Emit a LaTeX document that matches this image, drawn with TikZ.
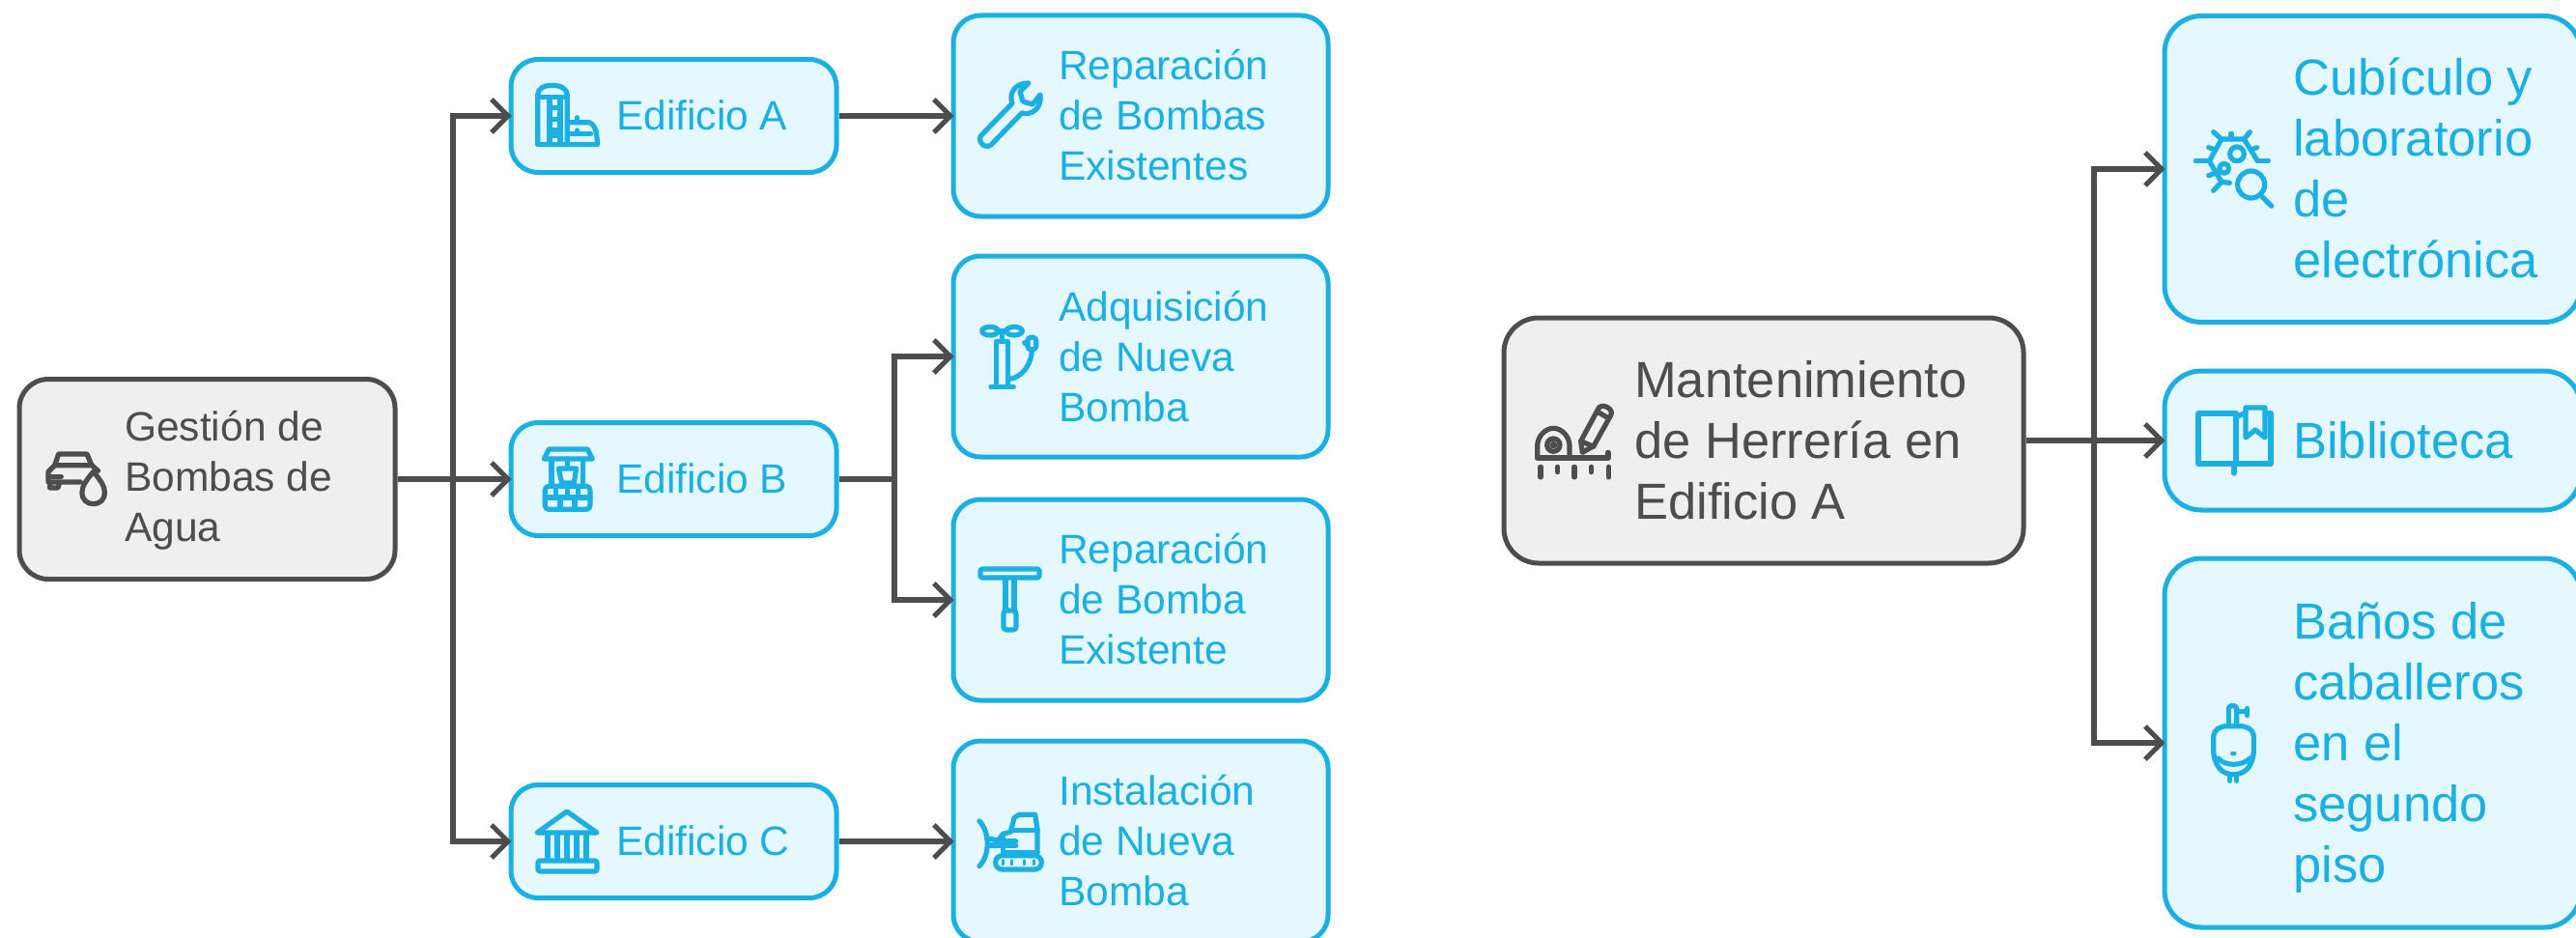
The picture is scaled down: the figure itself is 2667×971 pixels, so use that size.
\documentclass[tikz,border=0pt]{standalone}
\usepackage{fontspec}
\setmainfont{Liberation Sans}
\usetikzlibrary{arrows.meta}
\definecolor{bl}{HTML}{1BB0E3}
\definecolor{blf}{HTML}{E5F7FF}
\definecolor{gr}{HTML}{4D4D4D}
\definecolor{grf}{HTML}{EFEFEF}
\tikzset{
  x=1pt,y=-1pt,
  box/.style={draw,rounded corners=#1,line width=5pt,inner sep=0pt,anchor=center},
  bluebox/.style={box=#1,draw=bl,fill=blf},
  graybox/.style={box=#1,draw=gr,fill=grf},
  lblue/.style={anchor=west,align=left,inner sep=0pt,text=bl,font=\fontsize{42.5}{52}\selectfont},
  lgray/.style={anchor=west,align=left,inner sep=0pt,text=gr,font=\fontsize{42.5}{52}\selectfont},
  Lblue/.style={anchor=west,align=left,inner sep=0pt,text=bl,font=\fontsize{52.5}{63}\selectfont},
  Lgray/.style={anchor=west,align=left,inner sep=0pt,text=gr,font=\fontsize{52.5}{63}\selectfont},
  conn/.style={draw=gr,line width=6.5pt},
  arrow/.style={conn,shorten >=-3pt,-{Straight Barb[length=17pt,width=34pt,line width=5pt]}},
  ic/.style={line width=5.2pt,line cap=round,line join=round},
  icb/.style={ic,draw=bl},
  icg/.style={ic,draw=gr},
  crop/.style={x=0.3333pt,y=-0.3333pt},
}
\begin{document}
\begin{tikzpicture}
\clip (0,0) rectangle (2667,971);
% ---------- left diagram boxes
\node[graybox=30pt,minimum width=389pt,minimum height=207pt] (root) at (214.5,496) {};
\node[bluebox=28pt,minimum width=337pt,minimum height=117pt] (eda) at (697.5,120) {};
\node[bluebox=28pt,minimum width=337pt,minimum height=117pt] (edb) at (697.5,496) {};
\node[bluebox=28pt,minimum width=337pt,minimum height=117pt] (edc) at (697.5,871) {};
\node[bluebox=28pt,minimum width=388pt,minimum height=208pt] (rep) at (1181,120) {};
\node[bluebox=28pt,minimum width=388pt,minimum height=208pt] (adq) at (1181,369) {};
\node[bluebox=28pt,minimum width=388pt,minimum height=208pt] (rep2) at (1181,621) {};
\node[bluebox=28pt,minimum width=388pt,minimum height=208pt] (inst) at (1181,871) {};
% ---------- right diagram boxes
\node[graybox=36pt,minimum width=538pt,minimum height=254pt] (root2) at (1826,456) {};
\node[bluebox=38pt,minimum width=431pt,minimum height=317pt] (cub) at (2456.5,175) {};
\node[bluebox=38pt,minimum width=431pt,minimum height=144pt] (bib) at (2456.5,456) {};
\node[bluebox=38pt,minimum width=431pt,minimum height=382pt] (ban) at (2456.5,769) {};
% ---------- connectors
\coordinate (t1) at (469,496);
\coordinate (t2) at (926,496);
\coordinate (t3) at (2168,456);
\draw[arrow] (root.east) -- (edb.west);
\draw[arrow] (t1) |- (eda.west);
\draw[arrow] (t1) |- (edc.west);
\draw[arrow] (eda.east) -- (rep.west);
\draw[arrow] (edc.east) -- (inst.west);
\draw[conn] (edb.east) -- (t2);
\draw[arrow] (t2) |- (adq.west);
\draw[arrow] (t2) |- (rep2.west);
\draw[arrow] (root2.east) -- (bib.west);
\draw[arrow] (t3) |- (cub.west);
\draw[arrow] (t3) |- (ban.west);
% ---------- labels
\node[lgray] (troot) at (129,497) {Gestión de\\Bombas de\\Agua};
\node[lblue] (teda) at (638,119) {Edificio A};
\node[lblue] (tedb) at (638,495) {Edificio B};
\node[lblue] (tedc) at (638,870) {Edificio C};
\node[lblue] (trep) at (1096,119) {Reparación\\de Bombas\\Existentes};
\node[lblue] (tadq) at (1096,369) {Adquisición\\de Nueva\\Bomba};
\node[lblue] (trep2) at (1096,620) {Reparación\\de Bomba\\Existente};
\node[lblue] (tinst) at (1096,870) {Instalación\\de Nueva\\Bomba};
\node[Lgray] (troot2) at (1692,456) {Mantenimiento\\de Herrería en\\Edificio A};
\node[Lblue] (tcub) at (2374,174) {Cubículo y\\laboratorio\\de\\electrónica};
\node[Lblue] (tbib) at (2374,456) {Biblioteca};
\node[Lblue] (tban) at (2374,774) {Baños de\\caballeros\\en el\\segundo\\piso};
% ---------- icons
% car and drop
\begin{scope}[shift={(40,440)},crop,icg]
\draw (50,125) -- (62,90) -- (150,90) -- (165,125);
\draw (50,125) -- (165,125) -- (185,142);
\draw (50,125) -- (30,145) -- (30,177) -- (130,177);
\draw (30,160) -- (70,160);
\draw (35,180) -- (35,195) -- (60,195) -- (65,178);
\draw (170,145) .. controls (140,180) and (135,195) .. (135,210) .. controls (135,232) and (150,245) .. (170,245) .. controls (190,245) and (205,232) .. (205,210) .. controls (205,195) and (200,180) .. (170,145) -- cycle;
\end{scope}
% silo
\begin{scope}[shift={(545,70)},crop,icb]
\draw (35,238) -- (35,85) .. controls (35,65) and (55,55) .. (80,55) .. controls (105,55) and (127,65) .. (127,85) -- (127,238);
\draw (35,92) -- (127,92);
\draw (35,238) -- (220,238);
\draw (72,92) -- (72,238);
\draw (105,92) -- (105,238);
\foreach \yy in {125,160,195,210} \draw (72,\yy) -- (105,\yy);
\draw (127,170) -- (195,170) .. controls (210,175) and (220,195) .. (220,238);
\draw (127,205) -- (200,205);
\draw (157,155) -- (157,170);
\draw (157,195) -- (157,205);
\end{scope}
% well
\begin{scope}[shift={(545,450)},crop,icb]
\draw (55,75) -- (70,45) -- (190,45) -- (205,75) -- cycle;
\draw (78,75) -- (78,155);
\draw (175,75) -- (175,155);
\draw (127,75) -- (127,105);
\draw (100,105) -- (155,105) -- (148,150) -- (110,150) -- cycle;
\draw[rounded corners=4pt] (58,160) rectangle (198,232);
\draw (58,195) -- (198,195);
\foreach \xx in {92,127,160} \draw (\xx,160) -- (\xx,195);
\foreach \xx in {105,150} \draw (\xx,195) -- (\xx,232);
\end{scope}
% bank
\begin{scope}[icb]
\draw (556,862) -- (587,840) -- (618,862) -- cycle;
\foreach \xx in {567,577,587,597,607} \draw (\xx,864) -- (\xx,890);
\draw[rounded corners=2pt] (557,891) rectangle (618,902);
\end{scope}
% wrench
\draw[icb] (1016,140) -- (1048,107) .. controls (1044,95) and (1052,86) .. (1065,86) -- (1056,95) -- (1059,105) -- (1069,108) -- (1077,98) .. controls (1079,112) and (1068,120) .. (1058,117) -- (1026,150) .. controls (1020,155) and (1011,146) .. (1016,140) -- cycle;
% air pump
\begin{scope}[shift={(1000,320)},crop,icb]
\draw (75,68) ellipse [x radius=25,y radius=13];
\draw (150,68) ellipse [x radius=25,y radius=13];
\draw (100,68) -- (125,68);
\draw (112,68) -- (112,95);
\draw (95,242) -- (95,100) -- (130,100) -- (130,242);
\draw (78,242) -- (148,242);
\draw (130,218) .. controls (175,215) and (205,170) .. (205,125);
\draw[rounded corners=3pt] (192,88) rectangle (218,125);
\draw (182,105) -- (192,105);
\end{scope}
% squeegee
\begin{scope}[icb]
\draw[rounded corners=2pt] (1015,589) rectangle (1076,598);
\draw (1041,598) -- (1041,632);
\draw (1050,598) -- (1050,632);
\draw[rounded corners=3pt] (1039,632) rectangle (1052,652);
\end{scope}
% bulldozer
\begin{scope}[shift={(1000,825)},crop,icb]
\draw (140,103) -- (150,65) -- (165,55) -- (215,55) -- (222,100) -- (222,172);
\draw (140,103) -- (222,103);
\draw (100,135) -- (115,115) -- (140,108);
\draw (115,115) -- (115,172) -- (222,172);
\draw[rounded corners=7pt] (92,182) rectangle (235,225);
\draw (120,138) -- (155,138);
\draw (120,152) -- (155,152);
\foreach \xx in {115,143,180,212} \draw[line width=3pt] (\xx,197) -- (\xx,210);
\draw (42,75) .. controls (75,110) and (75,180) .. (42,215);
\draw (65,128) -- (100,135);
\draw (68,150) -- (115,150);
\end{scope}
% bug and magnifier
\begin{scope}[shift={(2260,120)},crop,icb]
\draw (145,208) -- (120,205) -- (82,140) -- (120,72) -- (190,72) -- (232,140);
\draw (150,55) -- (150,72);
\draw (95,50) -- (120,72);
\draw (208,50) -- (190,72);
\draw (80,98) -- (100,105);
\draw (230,98) -- (212,105);
\draw (40,140) -- (82,140);
\draw (232,140) -- (265,140);
\draw (80,185) -- (100,178);
\draw (95,232) -- (120,205);
\draw (168,118) circle [radius=22];
\draw (128,163) circle [radius=15];
\draw (212,213) circle [radius=42];
\draw (245,250) -- (275,280);
\end{scope}
% book
\begin{scope}[icb]
\draw (2315,480) -- (2276,480) -- (2276,428) -- (2315,428) -- (2315,480);
\draw (2315,480) -- (2351,480) -- (2351,428) -- (2345,428);
\draw (2315,432) -- (2325,427);
\draw (2325,453) -- (2325,422) -- (2345,422) -- (2345,453) -- (2335,445) -- cycle;
\draw (2313,480) -- (2313,490);
\end{scope}
% tape and pencil
\begin{scope}[shift={(1570,400)},crop,icg]
\draw (65,222) -- (65,185) .. controls (65,155) and (90,130) .. (115,130) .. controls (140,130) and (165,155) .. (165,185) -- (165,222);
\draw (115,182) circle [radius=20];
\draw (115,182) circle [radius=4];
\draw (65,222) -- (285,222) -- (285,205);
\foreach \xx in {75,180,287} \draw (\xx,250) -- (\xx,282);
\foreach \xx in {128,233} \draw (\xx,250) -- (\xx,266);
\draw (205,205) -- (200,170) -- (255,68) .. controls (265,50) and (305,70) .. (293,90) -- (240,185) -- cycle;
\draw (250,78) -- (285,98);
\draw (200,170) -- (240,187);
\end{scope}
% urinal
\begin{scope}[shift={(2270,720)},crop,icb]
\draw (112,90) -- (112,40) .. controls (115,28) and (134,28) .. (137,40) -- (137,90);
\draw (137,50) -- (168,50);
\draw (170,40) -- (170,62);
\draw (65,125) .. controls (68,105) and (85,95) .. (110,95) -- (145,95) .. controls (170,95) and (187,105) .. (190,125) -- (190,175) .. controls (185,225) and (160,245) .. (127,245) .. controls (95,245) and (70,225) .. (65,175) -- cycle;
\draw (80,195) .. controls (100,220) and (155,220) .. (178,195);
\fill[bl] (127,180) ellipse [x radius=10,y radius=7];
\draw (115,245) -- (115,265);
\draw (137,245) -- (137,265);
\end{scope}
\end{tikzpicture}
\end{document}
